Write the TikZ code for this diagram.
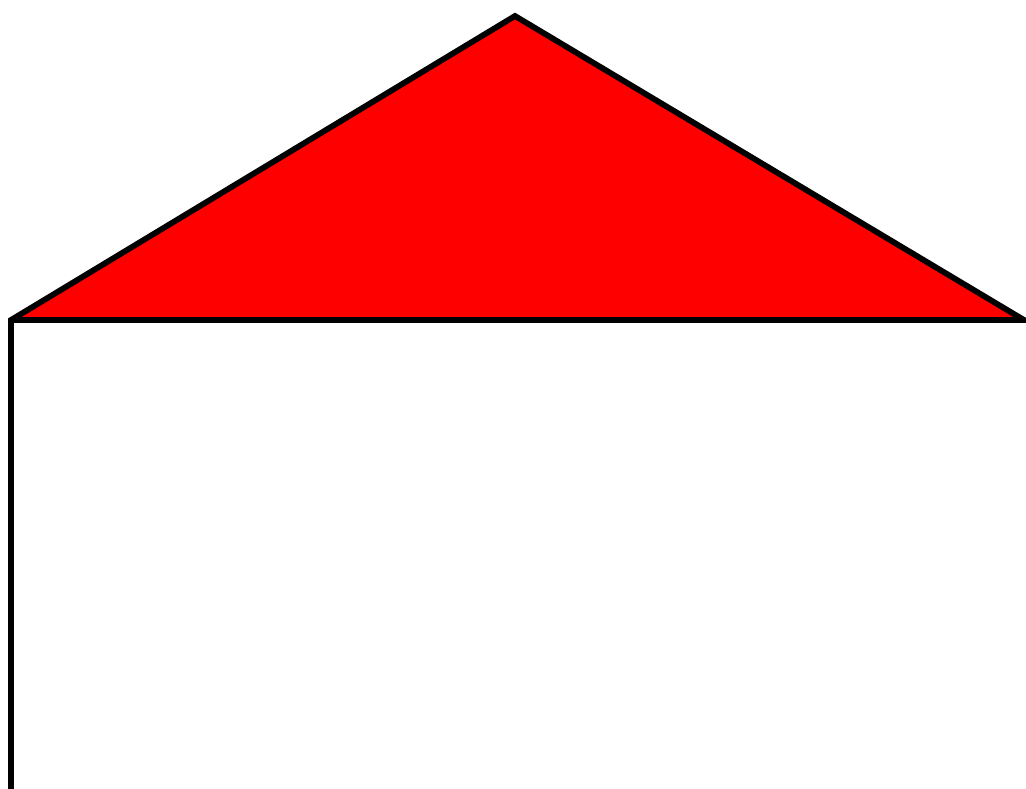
\documentclass[tikz,border=0pt]{standalone}
\usepackage{tikz}
\begin{document}
\begin{tikzpicture}[x=0.025cm,y=-0.025cm,outline/.style={line width=4.1pt,black}]
    \useasboundingbox (0,0) rectangle (1026,789);
    % Roof corners
    \coordinate (eaveleft) at (11,320);
    \coordinate (ridge) at (515,16);
    \coordinate (eaveright) at (1024,320);
    \coordinate (wallfoot) at (11,795);

    % Red roof
    \fill[red] (eaveleft) -- (ridge) -- (eaveright) -- cycle;

    % Outline of roof and left wall
    \draw[outline] (wallfoot) -- (eaveleft) -- (ridge) -- (eaveright) -- (eaveleft);
\end{tikzpicture}
\end{document}
